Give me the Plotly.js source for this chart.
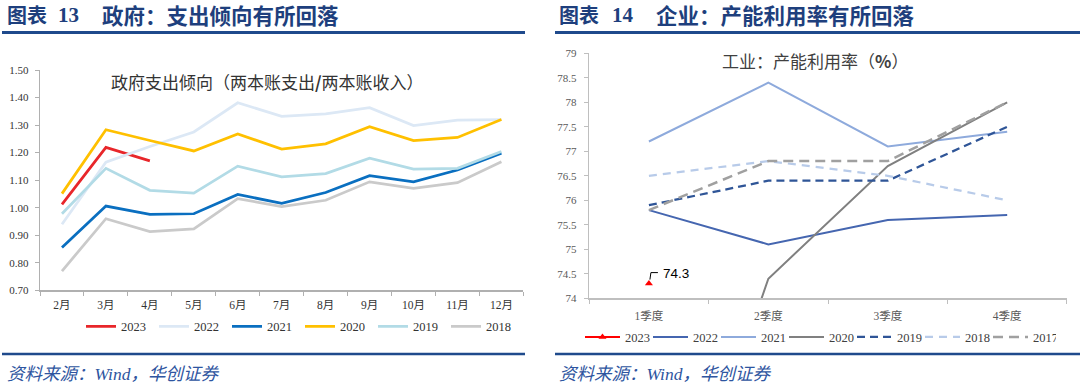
<!DOCTYPE html>
<html>
<head>
<meta charset="utf-8">
<script src="https://cdn.plot.ly/plotly-3.0.1.min.js"></script>
<style>
html,body{margin:0;padding:0;background:#fff;}
#chart{width:1080px;height:387px;}
</style>
</head>
<body>
<div id="chart"></div>
<script>
// ---------- Data: 图表13 政府支出倾向 ----------
const months = ['2月','3月','4月','5月','6月','7月','8月','9月','10月','11月','12月'];
const gov2023 = [1.012, 1.219, 1.170, null, null, null, null, null, null, null, null];
const gov2022 = [0.940, 1.165, 1.222, 1.275, 1.381, 1.332, 1.341, 1.363, 1.298, 1.318, 1.320];
const gov2021 = [0.855, 1.006, 0.976, 0.978, 1.048, 1.016, 1.055, 1.116, 1.094, 1.137, 1.198];
const gov2020 = [1.051, 1.283, 1.244, 1.206, 1.268, 1.213, 1.232, 1.294, 1.244, 1.255, 1.320];
const gov2019 = [0.978, 1.143, 1.063, 1.053, 1.151, 1.112, 1.124, 1.180, 1.140, 1.143, 1.204];
const gov2018 = [0.770, 0.960, 0.913, 0.923, 1.033, 1.004, 1.027, 1.094, 1.070, 1.091, 1.167];

// ---------- Data: 图表14 工业产能利用率 ----------
const quarters = ['1季度','2季度','3季度','4季度'];
const cap2023 = [74.3, null, null, null];
const cap2022 = [75.8, 75.1, 75.6, 75.7];
const cap2021 = [77.2, 78.4, 77.1, 77.4];
const cap2020 = [67.3, 74.4, 76.7, 78.0];
const cap2019 = [75.9, 76.4, 76.4, 77.5];
const cap2018 = [76.5, 76.8, 76.5, 76.0];
const cap2017 = [75.8, 76.8, 76.8, 78.0];

const W = 1080, H = 387;
const px = v => v / W;
const py = v => 1 - v / H;

const serif = 'Liberation Serif, Noto Sans CJK SC, serif';
const cjk = 'Noto Sans CJK SC, sans-serif';
const navy = '#1e3f7d';
const lineNavy = '#1f4a8c';

function lt(name, x, y, color, width, dash, xa, ya, leg, extra) {
  const t = {
    type: 'scatter', mode: 'lines', name: name, x: x, y: y,
    line: {color: color, width: width, dash: dash || 'solid'},
    xaxis: xa, yaxis: ya, legend: leg, connectgaps: false,
    hoverinfo: 'skip'
  };
  return Object.assign(t, extra || {});
}

const traces = [
  lt('2023', months, gov2023, '#e8262a', 2.75, null, 'x', 'y', 'legend'),
  lt('2022', months, gov2022, '#dce8f5', 2.75, null, 'x', 'y', 'legend'),
  lt('2021', months, gov2021, '#0a6fc0', 2.75, null, 'x', 'y', 'legend'),
  lt('2020', months, gov2020, '#ffc000', 2.75, null, 'x', 'y', 'legend'),
  lt('2019', months, gov2019, '#b2dbe6', 2.75, null, 'x', 'y', 'legend'),
  lt('2018', months, gov2018, '#cacaca', 2.75, null, 'x', 'y', 'legend'),

  lt('2023', quarters, cap2023, '#ff0000', 2, null, 'x2', 'y2', 'legend2',
     {mode: 'lines+markers', marker: {symbol: 'triangle-up', size: 7, color: '#ff0000'}}),
  lt('2022', quarters, cap2022, '#4566b0', 2, null, 'x2', 'y2', 'legend2'),
  lt('2021', quarters, cap2021, '#8eaadc', 2, null, 'x2', 'y2', 'legend2'),
  lt('2020', quarters, cap2020, '#808080', 2, null, 'x2', 'y2', 'legend2'),
  lt('2019', quarters, cap2019, '#2f5597', 2.25, '8px,5px', 'x2', 'y2', 'legend2'),
  lt('2018', quarters, cap2018, '#b8cbe9', 2.25, '8px,6px', 'x2', 'y2', 'legend2'),
  lt('2017', quarters, cap2017, '#a0a0a0', 2.5, '10px,6px', 'x2', 'y2', 'legend2')
];

const axisCommon = {
  showgrid: false, zeroline: false, showline: true,
  linecolor: '#b0b0b0', linewidth: 1.2,
  ticks: 'outside', ticklen: 4, tickcolor: '#b0b0b0', tickwidth: 1,
  fixedrange: true
};

const layout = {
  width: W, height: H,
  margin: {l: 0, r: 0, t: 0, b: 0, pad: 0},
  paper_bgcolor: '#ffffff', plot_bgcolor: 'rgba(0,0,0,0)',
  showlegend: true,
  xaxis: Object.assign({}, axisCommon, {
    type: 'category', domain: [px(40), px(523.4)], anchor: 'y',
    range: [-0.5, months.length - 0.5],
    tickson: 'boundaries', ticklabelstandoff: 4,
    tickfont: {family: serif, size: 11.5, color: '#333333'}
  }),
  yaxis: Object.assign({}, axisCommon, {
    range: [0.70, 1.50], dtick: 0.1, tickformat: '.2f',
    domain: [py(290.3), py(70)], anchor: 'x',
    ticklen: 4, ticklabelstandoff: 4,
    tickfont: {family: serif, size: 11, color: '#333333'}
  }),
  xaxis2: Object.assign({}, axisCommon, {
    type: 'category', domain: [px(589.2), px(1066.9)], anchor: 'y2',
    range: [-0.5, quarters.length - 0.5],
    tickson: 'boundaries', ticklabelstandoff: 6,
    linecolor: '#bfbfbf', linewidth: 1.6, tickcolor: '#bfbfbf',
    tickfont: {family: serif, size: 11.5, color: '#595959'}
  }),
  yaxis2: Object.assign({}, axisCommon, {
    range: [74, 79], dtick: 0.5,
    domain: [py(298.3), py(53.3)], anchor: 'x2',
    linecolor: '#bfbfbf', linewidth: 1.6, tickcolor: '#bfbfbf',
    ticklabelstandoff: 5,
    tickfont: {family: serif, size: 11, color: '#595959'}
  }),
  legend: {
    orientation: 'h', x: px(81), y: py(326.7), xanchor: 'left', yanchor: 'middle',
    font: {family: serif, size: 12.5, color: '#333333'},
    bgcolor: 'rgba(0,0,0,0)', borderwidth: 0,
    itemwidth: 30, entrywidth: 28, entrywidthmode: 'pixels', tracegroupgap: 0,
    itemclick: false, itemdoubleclick: false
  },
  legend2: {
    orientation: 'h', x: px(580), y: py(337.3), xanchor: 'left', yanchor: 'middle',
    font: {family: serif, size: 12.5, color: '#404040'},
    bgcolor: 'rgba(0,0,0,0)', borderwidth: 0,
    itemwidth: 35, entrywidth: 18, entrywidthmode: 'pixels', tracegroupgap: 0,
    itemclick: false, itemdoubleclick: false
  },
  shapes: [
    {type: 'line', xref: 'paper', yref: 'paper', x0: px(2), x1: px(525), y0: py(32.5), y1: py(32.5), line: {color: lineNavy, width: 3}},
    {type: 'line', xref: 'paper', yref: 'paper', x0: px(555), x1: px(1080), y0: py(32.5), y1: py(32.5), line: {color: lineNavy, width: 3}},
    {type: 'line', xref: 'paper', yref: 'paper', x0: px(2), x1: px(525), y0: py(354), y1: py(354), line: {color: lineNavy, width: 2.5}},
    {type: 'line', xref: 'paper', yref: 'paper', x0: px(555), x1: px(1080), y0: py(354), y1: py(354), line: {color: lineNavy, width: 2.5}},
    // elbow leader line for the 74.3 label, anchored on the data point
    {type: 'path', xref: 'x2', yref: 'y2', xsizemode: 'pixel', ysizemode: 'pixel',
     xanchor: 0, yanchor: cap2023[0], path: 'M1,4 L2,11 L9,11',
     line: {color: '#000000', width: 1}}
  ],
  annotations: [
    // headings
    {xref: 'paper', yref: 'paper', x: px(5), y: py(15), xanchor: 'left', yanchor: 'middle', showarrow: false,
     text: '<b>图表</b>', font: {family: cjk, size: 20, color: navy}},
    {xref: 'paper', yref: 'paper', x: px(56), y: py(15.5), xanchor: 'left', yanchor: 'middle', showarrow: false,
     text: '<b>13</b>', font: {family: serif, size: 21, color: navy}},
    {xref: 'paper', yref: 'paper', x: px(99.5), y: py(15), xanchor: 'left', yanchor: 'middle', showarrow: false,
     text: '<b>政府：支出倾向有所回落</b>', font: {family: cjk, size: 21.5, color: navy}},
    {xref: 'paper', yref: 'paper', x: px(557), y: py(15), xanchor: 'left', yanchor: 'middle', showarrow: false,
     text: '<b>图表</b>', font: {family: cjk, size: 20, color: navy}},
    {xref: 'paper', yref: 'paper', x: px(610), y: py(15.5), xanchor: 'left', yanchor: 'middle', showarrow: false,
     text: '<b>14</b>', font: {family: serif, size: 21, color: navy}},
    {xref: 'paper', yref: 'paper', x: px(653.5), y: py(15), xanchor: 'left', yanchor: 'middle', showarrow: false,
     text: '<b>企业：产能利用率有所回落</b>', font: {family: cjk, size: 21.5, color: navy}},
    // chart inner titles
    {xref: 'paper', yref: 'paper', x: px(267.7), y: py(81), xanchor: 'center', yanchor: 'middle', showarrow: false,
     text: '政府支出倾向（两本账支出<b>/</b>两本账收入）', font: {family: cjk, size: 17, color: '#333333'}},
    {xref: 'paper', yref: 'paper', x: px(814.6), y: py(60), xanchor: 'center', yanchor: 'middle', showarrow: false,
     text: '工业：产能利用率（<b>%</b>）', font: {family: cjk, size: 17, color: '#404040'}},
    // data label
    {xref: 'x2', yref: 'y2', x: quarters[0], y: cap2023[0], text: String(cap2023[0]),
     showarrow: false, xanchor: 'left', yanchor: 'middle', xshift: 12, yshift: 10,
     font: {family: 'Liberation Sans, Arial, sans-serif', size: 13.5, color: '#000000'}},
    // sources
    {xref: 'paper', yref: 'paper', x: px(5), y: py(374), xanchor: 'left', yanchor: 'middle', showarrow: false,
     text: '<i>资料来源：Wind，华创证券</i>', font: {family: serif, size: 17.5, color: '#2e55a0'}},
    {xref: 'paper', yref: 'paper', x: px(557), y: py(374), xanchor: 'left', yanchor: 'middle', showarrow: false,
     text: '<i>资料来源：Wind，华创证券</i>', font: {family: serif, size: 17.5, color: '#2e55a0'}}
  ]
};

Plotly.newPlot('chart', traces, layout, {staticPlot: true, displayModeBar: false});
</script>
</body>
</html>
